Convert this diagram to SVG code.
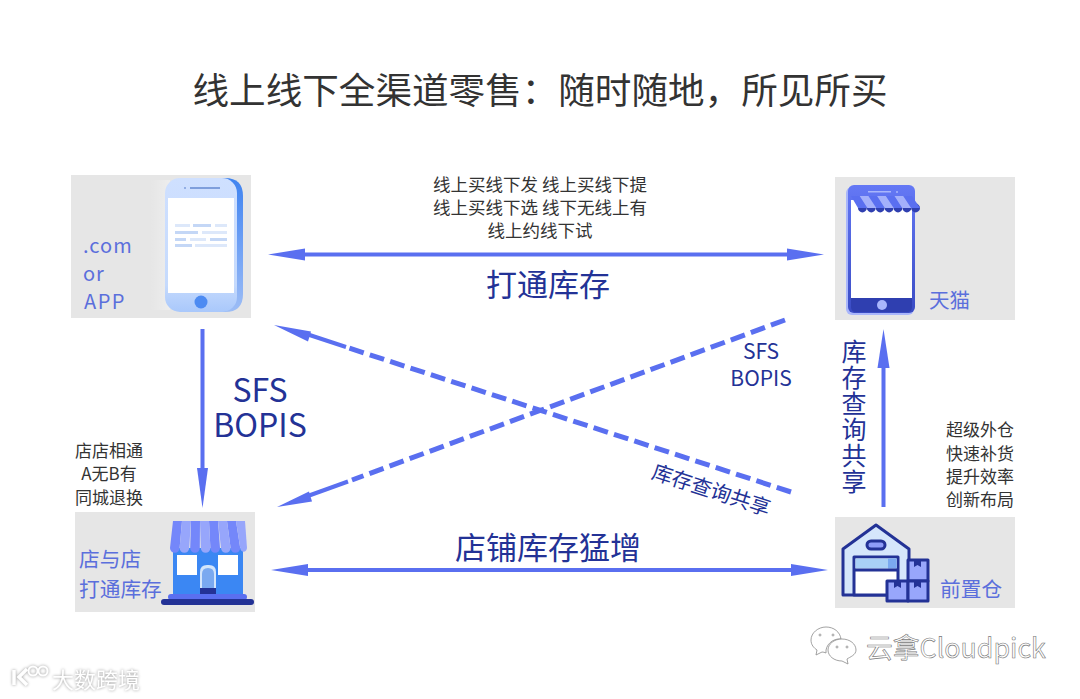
<svg xmlns="http://www.w3.org/2000/svg" width="1080" height="699" viewBox="0 0 1080 699">
<defs>
<style>
text{font-family:"Noto Sans CJK SC","Noto Sans",sans-serif}
.panel{fill:#e6e6e6}
.blk{fill:#333;font-size:17px;text-anchor:middle}
.top{fill:#333;font-size:17.5px;text-anchor:middle}
.navy{fill:#233296}
.lab{fill:#5b6fdc}
.ln{stroke:#5a6ff0;fill:none;stroke-width:4}
.dash{stroke:#5a6ff0;fill:none;stroke-width:5;stroke-dasharray:15 6.4}
.head{fill:#5a6ff0}
.wh{stroke:#233296;stroke-width:3;stroke-linejoin:round}
</style>
<linearGradient id="g1" x1="0" y1="0" x2="0" y2="1"><stop offset="0" stop-color="#cfe0ff"/><stop offset="0.8" stop-color="#c5dafd"/><stop offset="1" stop-color="#a9c8fb"/></linearGradient>
<linearGradient id="g2" x1="0" y1="0" x2="0" y2="1"><stop offset="0" stop-color="#3f83f0"/><stop offset="0.5" stop-color="#6ea0f5"/><stop offset="1" stop-color="#9dbdf5"/></linearGradient>
<linearGradient id="halo" x1="0" y1="0" x2="1" y2="0"><stop offset="0" stop-color="#fff" stop-opacity="0"/><stop offset="1" stop-color="#fff" stop-opacity="0.3"/></linearGradient>
<linearGradient id="g3" x1="0" y1="0" x2="0" y2="1"><stop offset="0" stop-color="#6478f5"/><stop offset="1" stop-color="#3a4cc4"/></linearGradient>
</defs>
<rect width="1080" height="699" fill="#fff"/>
<text id="title" x="540" y="104" font-size="36.600" fill="#333" text-anchor="middle">线上线下全渠道零售：随时随地，所见所买</text>

<g id="node-app">
<rect class="panel" x="71" y="175" width="180" height="143"/>
<rect x="150" y="180" width="20" height="130" fill="url(#halo)"/>
<path d="M195 178h30q18 0 18 18v98q0 18-18 18h-30z" fill="url(#g2)"/>
<rect x="165" y="178" width="72" height="134" rx="15" fill="url(#g1)"/>
<rect x="168" y="198" width="66" height="95" fill="#fff"/>
<rect x="190" y="187" width="30" height="2" fill="#7f9fdc"/><circle cx="185" cy="188" r="1" fill="#7f9fdc"/>
<circle cx="201" cy="302" r="6.500" fill="#4d8bf2"/>
<g fill="#dde8fa"><rect x="175" y="224" width="15" height="3"/><rect x="215" y="224" width="12" height="3"/><rect x="202" y="231" width="25" height="3"/><rect x="190" y="238" width="16" height="3"/><rect x="195" y="244" width="32" height="3"/></g>
<g fill="#c4d7f6"><rect x="193" y="224" width="18" height="3"/><rect x="175" y="231" width="23" height="3"/><rect x="175" y="238" width="11" height="3"/><rect x="210" y="238" width="17" height="3"/><rect x="175" y="244" width="17" height="3"/></g>
<text class="lab" x="83" y="253" font-size="20" letter-spacing="1">.com</text>
<text class="lab" x="83" y="281" font-size="20" letter-spacing="1">or</text>
<text class="lab" x="84" y="309" font-size="20" letter-spacing="1.500">APP</text>
</g>

<g id="node-tmall">
<rect class="panel" x="835" y="177" width="180" height="143"/>
<rect x="846" y="187" width="68" height="128" rx="6" fill="#a9b6fb"/>
<rect x="848" y="185" width="67" height="128" rx="6" fill="url(#g3)"/>
<path d="M851 298h61v9q0 5-5 5h-51q-5 0-5-5z" fill="#2f3fb0"/>
<rect x="851" y="200" width="61" height="98" fill="#fff"/>
<rect x="868" y="191" width="23" height="1.500" fill="#a9b6fb"/><circle cx="897" cy="192" r="1" fill="#a9b6fb"/>
<circle cx="882" cy="305" r="5" fill="#a9b6fb"/>
<g fill="#2f3fb0"><circle cx="862.400" cy="208" r="4.400"/><circle cx="871.300" cy="208" r="4.400"/><circle cx="880.200" cy="208" r="4.400"/><circle cx="889.100" cy="208" r="4.400"/><circle cx="898" cy="208" r="4.400"/><circle cx="906.900" cy="208" r="4.400"/><circle cx="915.600" cy="208" r="4.400"/></g>
<path d="M851 196h61l8 12h-62z" fill="#5a6ff0"/>
<path d="M859.700 196h8.700l7.900 12h-8.900zM877.100 196h8.700l7.900 12h-8.900zM894.500 196h8.700l7.900 12h-8.900z" fill="#a4b0fb"/>
<text class="lab" x="929" y="308" font-size="20.500">天猫</text>
</g>

<g id="node-store">
<rect class="panel" x="75" y="512" width="180" height="100"/>
<rect x="173" y="548" width="70" height="47" fill="#3b87f3"/>
<g fill="#7487fa">
<path d="M173 521h9l-2.400 27a4.800 4.800 0 0 1-9.600 0z"/>
<path d="M191 521h9l-.2 27a4.800 4.800 0 0 1-9.600 0z"/>
<path d="M209 521h9l2 27a4.800 4.800 0 0 1-9.600 0z"/>
<path d="M227 521h9l4.200 27a4.800 4.800 0 0 1-9.600 0z"/>
</g>
<g fill="#97a6fb">
<path d="M182 521h9l-1.800 27a4.800 4.800 0 0 1-9.600 0z"/>
<path d="M200 521h9l1.400 27a4.800 4.800 0 0 1-9.600 0z"/>
<path d="M218 521h9l3.600 27a4.800 4.800 0 0 1-9.600 0z"/>
<path d="M236 521h9l2 27a3.500 5 0 0 1-6.800 0z"/>
</g>
<rect x="177" y="555" width="20" height="20" fill="#fff"/>
<rect x="218" y="555" width="20" height="20" fill="#fff"/>
<path d="M200 594v-22q0-7 7-7h2q7 0 7 7v22z" fill="#d3e5fb"/>
<path d="M202 594v-20q0-6 6-6t6 6v20z" fill="#7aa9f0"/>
<rect x="200" y="588" width="16" height="6" fill="#233296"/>
<rect x="168" y="594" width="79" height="6" rx="3" fill="#5a6ff0"/>
<rect x="161" y="599" width="93" height="6" rx="3" fill="#233296"/>
<text class="lab" x="79" y="567" font-size="20.700">店与店</text>
<text class="lab" x="79" y="597" font-size="20.700">打通库存</text>
</g>

<g id="node-warehouse">
<rect class="panel" x="835" y="517" width="180" height="91"/>
<path d="M843 549l33-24 33 24v46h-66z" fill="#d5e6fb" class="wh"/>
<rect x="854" y="557" width="44" height="38" fill="#fff" class="wh"/>
<rect x="855.500" y="558.500" width="41" height="10" fill="#a9d0f6"/><rect x="888" y="558.500" width="8.500" height="10" fill="#7aa9f0"/>
<path d="M854 570h44" class="wh"/>
<rect x="867" y="541" width="18" height="8" rx="4" fill="#8e9cf8" class="wh"/>
<g fill="#98a6fb" class="wh"><rect x="908" y="560" width="20" height="21"/><rect x="887" y="581" width="21" height="20"/><rect x="908" y="581" width="20" height="20"/></g>
<g fill="#233296"><path d="M914 560h7v7l-3.500-2-3.500 2zM894 581h7v7l-3.500-2-3.500 2zM914 581h7v7l-3.500-2-3.500 2z"/></g>
<text class="lab" x="940" y="597" font-size="20.700">前置仓</text>
</g>

<g id="connectors">
<path class="ln" d="M295 254.500H798"/>
<path class="head" d="M268 254.500l37-6v12zM824 254.500l-37-6v12z"/>
<path class="ln" d="M298 570H802"/>
<path class="head" d="M271 570l37-6v12zM828 570l-37-6v12z"/>
<path class="ln" d="M202.500 329V480"/>
<path class="head" d="M202.500 508l-5.500-40h11z"/>
<path class="ln" d="M883.500 507V360"/>
<path class="head" d="M883.500 329l-6 39h12z"/>
<path class="dash" d="M791 492L346 347"/>
<path class="ln" d="M346 347L305 333.500"/>
<path class="head" d="M274 325l37 6.500-3 10z"/>
<path class="dash" d="M785 320L352 480"/>
<path class="ln" d="M348 481.500L305 497"/>
<path class="head" d="M277 507l32-15.500 3 10z"/>
</g>

<g id="labels">
<text class="top" x="540" y="191">线上买线下发 线上买线下提</text>
<text class="top" x="540" y="214">线上买线下选 线下无线上有</text>
<text class="top" x="540" y="237">线上约线下试</text>
<text class="navy" x="548" y="296" font-size="31" text-anchor="middle">打通库存</text>
<text class="navy" font-size="32" text-anchor="middle"><tspan x="260" y="402">SFS</tspan><tspan x="260" y="437">BOPIS</tspan></text>
<text class="navy" font-size="21" text-anchor="middle"><tspan x="761" y="359">SFS</tspan><tspan x="761" y="386">BOPIS</tspan></text>
<text class="navy" x="709" y="497" font-size="20.500" text-anchor="middle" transform="rotate(18 709 497)">库存查询共享</text>
<text class="navy" x="548" y="559" font-size="31" text-anchor="middle">店铺库存猛增</text>
<text class="blk" x="109" y="457">店店相通</text>
<text class="blk" x="109" y="480">A无B有</text>
<text class="blk" x="109" y="504">同城退换</text>
<text class="blk" x="980" y="436">超级外仓</text>
<text class="blk" x="980" y="460">快速补货</text>
<text class="blk" x="980" y="483">提升效率</text>
<text class="blk" x="980" y="506">创新布局</text>
<text class="navy" x="854" y="339" font-size="25" letter-spacing="1" style="writing-mode:vertical-rl">库存查询共享</text>
</g>

<g id="watermarks">
<g fill="#fff" stroke="#8a8a8a" stroke-width="0.800">
<path d="M826 627c-8 0-15 6-15 13 0 5 3 8 6 10l-1 5 6-3q2 0 4 1c-1-8 7-15 15-14c-1-7-7-12-15-12z"/>
<path d="M842 639c-8 0-14 5-14 11s6 11 14 11l6 3-1-5c3-2 9-4 9-9 0-6-6-11-14-11z"/>
<circle cx="820" cy="635" r="1"/><circle cx="833" cy="635" r="1"/><circle cx="837" cy="647" r="1"/><circle cx="847" cy="647" r="1"/>
</g>
<text x="866" y="658" font-size="26.800" fill="#fff" stroke="#777" stroke-width="0.600">云拿Cloudpick</text>
<g style="filter:drop-shadow(0 0 1.500px #999)">
<g fill="none" stroke="#fff" stroke-width="3.500"><path d="M14 670v15M27 669l-8 8 8 8"/><circle cx="33" cy="671" r="4.500" stroke-width="2"/><circle cx="43" cy="671" r="4.500" stroke-width="2"/></g>
<text x="52" y="688" font-size="22" fill="#fff">大数跨境</text>
</g>
</g>
</svg>
